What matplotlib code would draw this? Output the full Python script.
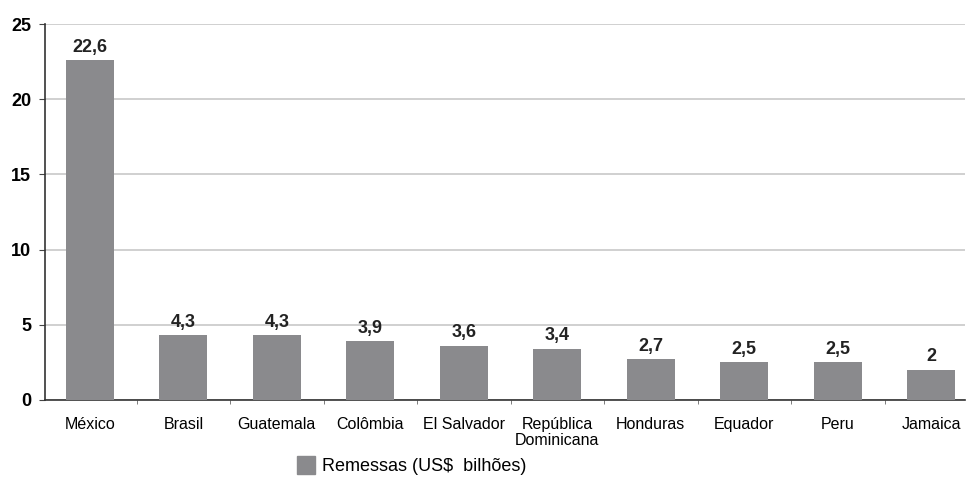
import matplotlib
matplotlib.use("Agg")
import matplotlib.pyplot as plt
import matplotlib.patches as mpatches

plt.rcParams['font.family'] = ['Liberation Sans', 'DejaVu Sans']

# Data
countries = ["México", "Brasil", "Guatemala", "Colômbia", "El Salvador",
             "República\nDominicana", "Honduras", "Equador", "Peru", "Jamaica"]
remessas = [22.6, 4.3, 4.3, 3.9, 3.6, 3.4, 2.7, 2.5, 2.5, 2.0]
labels = ["22,6", "4,3", "4,3", "3,9", "3,6", "3,4", "2,7", "2,5", "2,5", "2"]

bar_color = "#8a8a8d"

fig = plt.figure(figsize=(9.69, 5.03), dpi=100)
ax = fig.add_axes([0.0464, 0.205, 0.9494, 0.747])

x = list(range(len(countries)))
ax.bar(x, remessas, width=0.51, color=bar_color, zorder=3)

for xi, v, lab in zip(x, remessas, labels):
    ax.text(xi, v + 0.3, lab, ha='center', va='bottom', fontsize=13,
            fontweight='bold', color="#222222")

ax.set_ylim(0, 25)
ax.set_xlim(-0.48, 9.36)
ax.set_yticks([0, 5, 10, 15, 20, 25])
ax.set_yticklabels(["0", "5", "10", "15", "20", "25"], fontsize=13, fontweight='bold')
ax.yaxis.grid(True, color="#c8c8c8", linewidth=1.2, zorder=0)

# category labels
ax.set_xticks(x)
ax.set_xticklabels(countries, fontsize=11.5, va='top', linespacing=1.1)
ax.tick_params(axis='x', length=0, pad=12)
# small boundary ticks
ax.set_xticks([i + 0.5 for i in range(len(countries) - 1)], minor=True)
ax.tick_params(axis='x', which='minor', length=3, color="#666666", direction='out')
ax.tick_params(axis='y', length=4, color="#444444", pad=6)

for s in ['top', 'right']:
    ax.spines[s].set_visible(False)
ax.spines['left'].set_color("#333333")
ax.spines['bottom'].set_color("#333333")
ax.spines['left'].set_linewidth(1.2)
ax.spines['bottom'].set_linewidth(1.2)

handle = mpatches.Patch(color=bar_color, label="Remessas (US$  bilhões)")
fig.legend(handles=[handle], loc='center left', bbox_to_anchor=(0.306, 0.074),
           frameon=False, fontsize=13, handlelength=1.0, handleheight=1.1,
           handletextpad=0.4, borderpad=0, borderaxespad=0)

fig.savefig("out.png", dpi=100)
